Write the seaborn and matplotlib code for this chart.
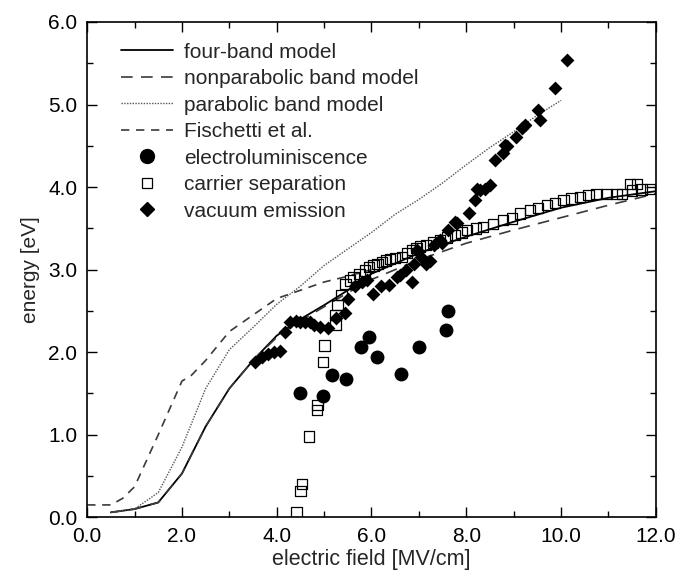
import numpy as np
import pandas as pd
import matplotlib
matplotlib.use('Agg')
import matplotlib.pyplot as plt
from matplotlib.lines import Line2D
from matplotlib.legend_handler import HandlerLine2D
from matplotlib.ticker import MultipleLocator, FormatStrFormatter
import seaborn as sns

# model curves (electric field [MV/cm], energy [eV])
four_band_x = [0.5, 1.0, 1.5, 2.0, 2.5, 3.0, 3.5, 4.0, 4.5, 5.0, 5.5, 6.0,
               7.0, 8.0, 9.0, 10.0, 11.0, 12.0]
four_band_y = [0.06, 0.10, 0.18, 0.53, 1.10, 1.56, 1.90, 2.20, 2.40, 2.57, 2.75, 2.95,
               3.20, 3.40, 3.58, 3.75, 3.87, 3.95]

nonparabolic_x = [0.5, 1.0, 1.5, 2.0, 2.5, 3.0, 3.5, 4.0, 4.5, 5.0, 5.5, 6.0,
                  7.0, 8.0, 9.0, 10.0, 11.0, 12.0]
nonparabolic_y = [0.06, 0.10, 0.18, 0.53, 1.10, 1.56, 1.90, 2.18, 2.38, 2.55, 2.72, 2.88,
                  3.12, 3.32, 3.48, 3.63, 3.78, 3.92]

parabolic_x = [0.5, 1.0, 1.5, 2.0, 2.5, 3.0, 3.5, 4.0, 4.5, 5.0, 5.5, 6.0,
               6.5, 7.0, 7.5, 8.0, 8.5, 9.0, 9.5, 10.0]
parabolic_y = [0.06, 0.10, 0.30, 0.85, 1.56, 2.03, 2.30, 2.58, 2.80, 3.05, 3.25, 3.45,
               3.67, 3.85, 4.05, 4.27, 4.48, 4.67, 4.87, 5.05]

fischetti_x = [0.0, 0.5, 0.75, 1.0, 1.5, 2.0, 2.2, 2.5, 3.0, 3.5, 4.0, 4.5, 5.0, 5.5, 6.0]
fischetti_y = [0.15, 0.15, 0.23, 0.37, 1.00, 1.65, 1.72, 1.90, 2.25, 2.45, 2.65, 2.75,
               2.85, 2.92, 3.00]

# measurements
electrolum_x = [4.49, 4.97, 5.16, 5.46, 5.77, 5.94, 6.12, 6.62, 7.00, 7.57, 7.62]
electrolum_y = [1.50, 1.47, 1.72, 1.68, 2.06, 2.19, 1.94, 1.73, 2.06, 2.27, 2.50]

carrier_x = [4.42, 4.50, 4.54, 4.68, 4.85, 4.86, 4.97, 5.01, 5.24, 5.24, 5.28, 5.37,
             5.45, 5.55, 5.62, 5.75, 5.86, 5.95, 6.04, 6.13, 6.22, 6.30, 6.39, 6.50,
             6.64, 6.75, 6.85, 6.95, 7.03, 7.15, 7.30, 7.45, 7.60, 7.76, 7.90, 8.01,
             8.20, 8.36, 8.57, 8.78, 8.96, 9.13, 9.35, 9.52, 9.70, 9.87, 10.05, 10.22,
             10.40, 10.58, 10.75, 10.96, 11.17, 11.28, 11.46, 11.60, 11.50, 11.70, 11.88]
carrier_y = [0.06, 0.32, 0.40, 0.98, 1.30, 1.36, 1.88, 2.08, 2.33, 2.45, 2.57, 2.69,
             2.83, 2.87, 2.91, 2.95, 2.99, 3.03, 3.05, 3.07, 3.09, 3.11, 3.13, 3.14,
             3.15, 3.20, 3.24, 3.26, 3.28, 3.30, 3.33, 3.36, 3.39, 3.42, 3.45, 3.48,
             3.50, 3.52, 3.55, 3.60, 3.62, 3.68, 3.72, 3.75, 3.78, 3.81, 3.84, 3.86,
             3.88, 3.90, 3.92, 3.92, 3.92, 3.92, 4.04, 4.04, 3.96, 3.97, 3.98]

vacuum_x = [3.54, 3.68, 3.82, 3.95, 4.07, 4.18, 4.28, 4.40, 4.50, 4.60, 4.70, 4.78,
            4.92, 5.09, 5.25, 5.44, 5.51, 5.65, 5.79, 5.90, 6.04, 6.20, 6.36, 6.53,
            6.60, 6.72, 6.85, 6.89, 6.96, 7.05, 7.16, 7.24, 7.31, 7.45, 7.48, 7.62,
            7.76, 7.80, 8.05, 8.19, 8.22, 8.29, 8.40, 8.50, 8.61, 8.78, 8.82, 8.85,
            9.06, 9.17, 9.24, 9.52, 9.56, 9.87, 10.12]
vacuum_y = [1.88, 1.94, 1.98, 2.00, 2.02, 2.25, 2.37, 2.38, 2.37, 2.37, 2.36, 2.33,
            2.30, 2.29, 2.42, 2.47, 2.65, 2.80, 2.85, 2.88, 2.71, 2.80, 2.81, 2.91,
            2.93, 3.00, 2.85, 3.07, 3.24, 3.15, 3.07, 3.10, 3.30, 3.36, 3.32, 3.48,
            3.58, 3.56, 3.68, 3.84, 3.98, 3.96, 3.98, 4.03, 4.33, 4.41, 4.51, 4.50,
            4.61, 4.71, 4.75, 4.93, 4.81, 5.20, 5.54]

labels = ['four-band model', 'nonparabolic band model', 'parabolic band model',
          'Fischetti et al.', 'electroluminiscence', 'carrier separation', 'vacuum emission']


class RightMarkerHandler(HandlerLine2D):
    # put the single legend marker at the right end of the handle
    def get_xdata(self, legend, xdescent, ydescent, width, height, fontsize):
        xdata, _ = super().get_xdata(legend, xdescent, ydescent, width, height, fontsize)
        return xdata, np.array([-xdescent + width - 0.3 * height])


sns.set_style('ticks')
plt.rcParams['font.family'] = ['Liberation Sans', 'DejaVu Sans']

fig = plt.figure(figsize=(6.81, 5.78), dpi=100)
ax = fig.add_axes([0.128, 0.105, 0.835, 0.857])

line_styles = {
    'four-band model': dict(linestyle='-', linewidth=1.3, color='black'),
    'nonparabolic band model': dict(linestyle=(0, (7, 5)), linewidth=1.2, color='#3a3a3a'),
    'parabolic band model': dict(linestyle=(0, (1, 1)), linewidth=1.0, color='#555555'),
    'Fischetti et al.': dict(linestyle=(0, (5, 4)), linewidth=1.2, color='#3a3a3a'),
}
curves = [(four_band_x, four_band_y), (nonparabolic_x, nonparabolic_y),
          (parabolic_x, parabolic_y), (fischetti_x, fischetti_y)]

for name, (xs, ys) in zip(labels[:4], curves):
    sns.lineplot(x=xs, y=ys, ax=ax, estimator=None, sort=False, **line_styles[name])

sns.scatterplot(x=electrolum_x, y=electrolum_y, ax=ax, marker='o', s=100,
                color='black', edgecolor='black', linewidth=0, zorder=3)
sns.scatterplot(x=carrier_x, y=carrier_y, ax=ax, marker='s', s=55,
                facecolor='none', edgecolor='black', linewidth=0.9, zorder=4)
sns.scatterplot(x=vacuum_x, y=vacuum_y, ax=ax, marker='D', s=50,
                color='black', edgecolor='black', linewidth=0, zorder=5)

ax.set_xlim(0, 12)
ax.set_ylim(0, 6)
ax.xaxis.set_major_locator(MultipleLocator(2))
ax.xaxis.set_minor_locator(MultipleLocator(1))
ax.yaxis.set_major_locator(MultipleLocator(1))
ax.yaxis.set_minor_locator(MultipleLocator(0.5))
ax.xaxis.set_major_formatter(FormatStrFormatter('%.1f'))
ax.yaxis.set_major_formatter(FormatStrFormatter('%.1f'))
ax.tick_params(which='both', direction='in', top=True, right=True, colors='black',
               labelsize=15, width=1)
ax.tick_params(which='major', length=7, pad=7)
ax.tick_params(which='minor', length=4)
for sp in ax.spines.values():
    sp.set_visible(True)
    sp.set_linewidth(1.2)
    sp.set_color('black')

ax.set_xlabel('electric field [MV/cm]', fontsize=15.5, labelpad=2)
ax.set_ylabel('energy [eV]', fontsize=15, labelpad=6)

handles = [Line2D([], [], **line_styles[n]) for n in labels[:4]]
handles += [
    Line2D([], [], linestyle='none', marker='o', markersize=10, color='black'),
    Line2D([], [], linestyle='none', marker='s', markersize=7.5, markerfacecolor='none',
           markeredgecolor='black', markeredgewidth=0.9),
    Line2D([], [], linestyle='none', marker='D', markersize=7.5, color='black'),
]
ax.legend(handles, labels, loc='upper left', bbox_to_anchor=(0.044, 0.975),
          frameon=False, fontsize=15, handlelength=2.5, handletextpad=0.55,
          labelspacing=0.36, borderaxespad=0,
          handler_map={h: RightMarkerHandler(numpoints=1) for h in handles[4:]})

fig.savefig('out.png', dpi=100)
